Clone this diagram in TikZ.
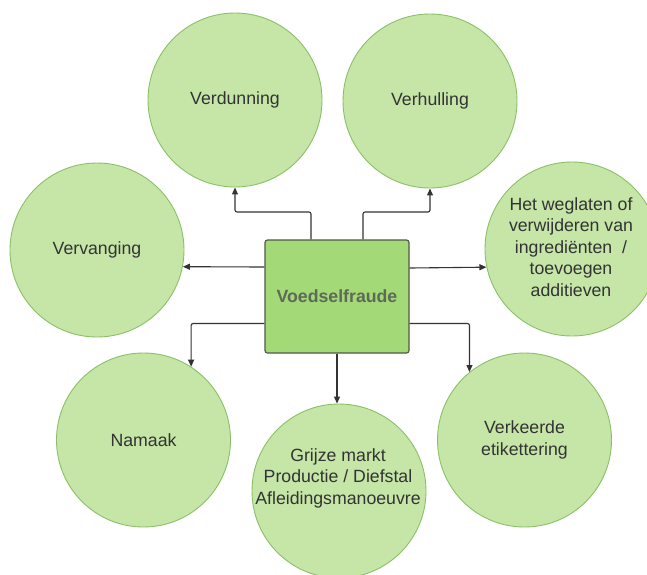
\documentclass[tikz,border=0pt]{standalone}
\usepackage{fontspec}
\setmainfont{Liberation Sans}
\usetikzlibrary{arrows.meta}
\definecolor{bubblefill}{HTML}{C5E6A7}
\definecolor{bubbleline}{HTML}{8CC068}
\definecolor{boxfill}{HTML}{A3D977}
\definecolor{boxline}{HTML}{4F5A48}
\definecolor{inktext}{HTML}{333333}
\definecolor{boxtext}{HTML}{5E6A58}
\definecolor{wire}{HTML}{333333}
\begin{document}
\begin{tikzpicture}[x=1pt,y=-1pt,
  every node/.style={font=\fontsize{17.7}{21.5}\selectfont, text=inktext, align=center},
  bubble/.style={circle, draw=bubbleline, line width=0.9pt, fill=bubblefill,
                 minimum size=174pt, inner sep=0pt},
  hub/.style={draw=boxline, line width=1.2pt, fill=boxfill, rounded corners=2.5pt,
              minimum width=144pt, minimum height=113pt, inner sep=0pt,
              font=\fontsize{17.7}{21.5}\selectfont\bfseries, text=boxtext},
  conn/.style={draw=wire, line width=1.1pt, rounded corners=2pt,
               -{Triangle[length=7pt,width=6pt]}}]
  \clip (0,0) rectangle (647,574);
  \fill[white] (0,0) rectangle (647,574);

  % outer bubbles
  \node[bubble] (verd)  at (235,100)   {Verdunning};
  \node[bubble] (verh)  at (430,101)   {Verhulling};
  \node[bubble] (verv)  at (97,250)    {Vervanging};
  \node[bubble] (weg)   at (572,249)   {};
  \node[bubble] (nam)   at (143.5,440) {Namaak};
  \node[bubble] (grijs) at (339,491)   {};
  \node[bubble] (verk)  at (524.5,440) {Verkeerde\\etikettering};

  % multi-line labels placed within their bubbles
  \node (wegtxt) at (571,247) {Het weglaten of\\verwijderen van\\ingrediënten~~/\\toevoegen\\additieven};
  \node (grijstxt) at (338,478) {Grijze markt\\Productie / Diefstal\\Afleidingsmanoeuvre};

  % central box
  \node[hub] (box) at (337,296.5) {Voedselfraude};

  % connectors
  \draw[conn] ([xshift=-26pt]box.north) -- ([xshift=-26pt]box.north |- 0,212) -| (verd.south);
  \draw[conn] ([xshift=26pt]box.north) -- ([xshift=26pt]box.north |- 0,212) -| (verh.south);
  \draw[conn] ([yshift=29.5pt]box.west) -- (verv.-11.3);
  \draw[conn] ([yshift=28.5pt]box.east) -- (weg.192.6);
  \draw[conn] ([yshift=-27pt]box.west) -| (nam.57.7);
  \draw[conn] ([yshift=-27pt]box.east) -| (verk.129.6);
  \draw[conn] (box.south) -- (box.south |- grijs.north);
\end{tikzpicture}
\end{document}
